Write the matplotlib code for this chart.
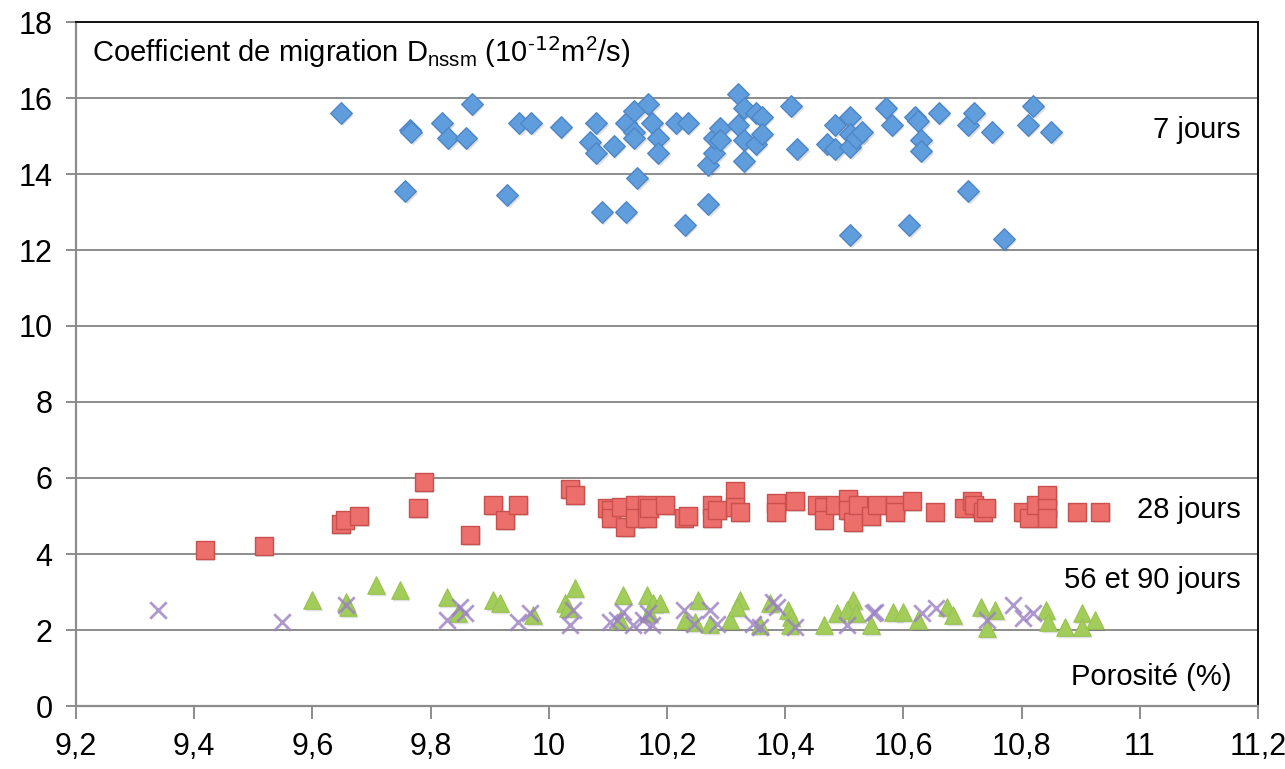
import matplotlib
matplotlib.use("Agg")
import matplotlib.pyplot as plt
from matplotlib import font_manager
import matplotlib.transforms as mtransforms

# ---------------- data ----------------
x_7 = [9.648, 9.765, 9.767, 9.757, 9.82, 9.83, 9.86, 9.87, 9.93, 9.95, 9.97, 10.02,
       10.07, 10.08, 10.08, 10.09, 10.11, 10.13, 10.13, 10.145, 10.145, 10.145, 10.15,
       10.168, 10.175, 10.185, 10.185, 10.215, 10.235, 10.23, 10.27, 10.27, 10.28, 10.28,
       10.29, 10.29, 10.32, 10.33, 10.32, 10.33, 10.33, 10.35, 10.36, 10.35, 10.36,
       10.41, 10.42, 10.47, 10.485, 10.485, 10.51, 10.51, 10.51, 10.52, 10.53, 10.51,
       10.57, 10.58, 10.62, 10.625, 10.63, 10.63, 10.61, 10.66, 10.71, 10.72, 10.71,
       10.75, 10.77, 10.81, 10.82, 10.85]
y_7 = [15.6, 15.15, 15.1, 13.55, 15.35, 14.95, 14.95, 15.85, 13.45, 15.35, 15.35, 15.25,
       14.85, 15.35, 14.55, 13.0, 14.75, 13.0, 15.35, 15.65, 15.1, 14.95, 13.9,
       15.85, 15.35, 14.95, 14.55, 15.35, 15.35, 12.65, 13.2, 14.25, 14.55, 14.95,
       15.2, 14.9, 16.1, 15.75, 15.3, 14.9, 14.35, 15.6, 15.5, 14.8, 15.05,
       15.8, 14.65, 14.8, 15.3, 14.65, 15.5, 15.05, 14.7, 14.95, 15.1, 12.4,
       15.75, 15.3, 15.5, 15.4, 14.9, 14.6, 12.65, 15.6, 15.3, 15.6, 13.55,
       15.1, 12.3, 15.3, 15.8, 15.1]

x_28 = [9.418, 9.518, 9.648, 9.655, 9.679, 9.779, 9.788, 9.867, 9.906, 9.926, 9.948,
        10.036, 10.044, 10.098, 10.106, 10.106, 10.129, 10.123, 10.146, 10.146, 10.166,
        10.166, 10.17, 10.197, 10.228, 10.236, 10.276, 10.276, 10.285, 10.315, 10.315,
        10.323, 10.385, 10.385, 10.417, 10.453, 10.465, 10.465, 10.484, 10.507, 10.507,
        10.515, 10.524, 10.546, 10.555, 10.586, 10.586, 10.614, 10.653, 10.703, 10.716,
        10.72, 10.734, 10.74, 10.803, 10.813, 10.825, 10.843, 10.843, 10.843, 10.893,
        10.933]
y_28 = [4.1, 4.2, 4.8, 4.9, 5.0, 5.2, 5.9, 4.5, 5.3, 4.9, 5.3,
        5.7, 5.55, 5.2, 5.15, 4.95, 4.7, 5.25, 5.3, 4.95, 5.3,
        4.95, 5.2, 5.3, 4.95, 5.0, 5.3, 4.95, 5.15, 5.65, 5.25,
        5.1, 5.35, 5.1, 5.4, 5.3, 5.25, 4.9, 5.3, 5.45, 5.15,
        4.85, 5.3, 5.0, 5.3, 5.3, 5.1, 5.4, 5.1, 5.2, 5.4,
        5.3, 5.1, 5.2, 5.1, 4.95, 5.3, 5.55, 5.2, 4.95, 5.1,
        5.1]

x_56 = [9.6, 9.657, 9.66, 9.708, 9.748, 9.827, 9.847, 9.906, 9.917, 9.974, 10.027,
        10.033, 10.044, 10.126, 10.12, 10.166, 10.177, 10.188, 10.17, 10.253, 10.23,
        10.247, 10.273, 10.307, 10.323, 10.318, 10.357, 10.374, 10.405, 10.41, 10.408,
        10.465, 10.487, 10.515, 10.505, 10.52, 10.546, 10.583, 10.6, 10.625, 10.673,
        10.684, 10.732, 10.755, 10.741, 10.842, 10.845, 10.873, 10.902, 10.902, 10.924]
y_56 = [2.79, 2.75, 2.6, 3.18, 3.05, 2.88, 2.44, 2.79, 2.7, 2.39, 2.7,
        2.57, 3.1, 2.92, 2.26, 2.92, 2.7, 2.7, 2.44, 2.79, 2.26,
        2.22, 2.17, 2.26, 2.79, 2.61, 2.13, 2.7, 2.53, 2.35, 2.13,
        2.13, 2.44, 2.79, 2.53, 2.44, 2.13, 2.48, 2.48, 2.26, 2.61,
        2.39, 2.61, 2.53, 2.04, 2.53, 2.22, 2.09, 2.44, 2.09, 2.26]

x_90 = [9.339, 9.548, 9.657, 9.827, 9.85, 9.858, 9.948, 9.968, 10.036, 10.041, 10.104,
        10.115, 10.126, 10.143, 10.16, 10.174, 10.168, 10.228, 10.245, 10.273, 10.284,
        10.346, 10.357, 10.38, 10.386, 10.417, 10.504, 10.549, 10.552, 10.631, 10.656,
        10.741, 10.786, 10.803, 10.82]
y_90 = [2.53, 2.2, 2.66, 2.26, 2.61, 2.44, 2.22, 2.44, 2.13, 2.53, 2.22,
        2.26, 2.48, 2.13, 2.26, 2.13, 2.44, 2.53, 2.17, 2.53, 2.17,
        2.17, 2.09, 2.75, 2.61, 2.09, 2.13, 2.44, 2.48, 2.44, 2.57,
        2.26, 2.66, 2.31, 2.44]

x_ticks = [9.2, 9.4, 9.6, 9.8, 10.0, 10.2, 10.4, 10.6, 10.8, 11.0, 11.2]
x_tick_labels = ["9,2", "9,4", "9,6", "9,8", "10", "10,2", "10,4", "10,6", "10,8", "11", "11,2"]
y_ticks = [0, 2, 4, 6, 8, 10, 12, 14, 16, 18]
y_tick_labels = ["0", "2", "4", "6", "8", "10", "12", "14", "16", "18"]

# ---------------- font ----------------
avail = {f.name for f in font_manager.fontManager.ttflist}
if "Liberation Sans Narrow" in avail:
    fam = "Liberation Sans Narrow"
    narrow = True
else:
    fam = "Liberation Sans"
    narrow = False
plt.rcParams["font.family"] = [fam, "DejaVu Sans"]

tick_fs = 24 if narrow else 22
txt_fs = 23 if narrow else 21

fig = plt.figure(figsize=(12.85, 7.69), dpi=100)
ax = fig.add_axes([76 / 1285, 1 - 706 / 769, (1258 - 76) / 1285, (706 - 22) / 769])

def shadow(xs, ys, **kw):
    tr = mtransforms.offset_copy(ax.transData, fig=fig, x=1.5, y=-2.0, units="dots")
    ax.scatter(xs, ys, transform=tr, color="#000000", alpha=0.12, linewidths=0, **kw)

ms_d = 14.8
ms_s = 17.5
ms_t = 17.0
ms_x = 16.0

shadow(x_7, y_7, marker="D", s=ms_d ** 2 * 0.55, zorder=2)
ax.scatter(x_7, y_7, marker="D", s=ms_d ** 2 * 0.55, color="#5f9ddc",
           edgecolors="#4f86c6", linewidths=1.0, zorder=3)

shadow(x_28, y_28, marker="s", s=ms_s ** 2 * 0.55, zorder=2)
ax.scatter(x_28, y_28, marker="s", s=ms_s ** 2 * 0.55, color="#ec6f6c",
           edgecolors="#c9504d", linewidths=1.0, zorder=3)

shadow(x_56, y_56, marker="^", s=ms_t ** 2 * 0.55, zorder=2)
ax.scatter(x_56, y_56, marker="^", s=ms_t ** 2 * 0.55, color="#a3cd5b",
           edgecolors="#98c24f", linewidths=0.8, zorder=3)

ax.scatter(x_90, y_90, marker="x", s=ms_x ** 2 * 0.55, color="#9a80c4",
           alpha=0.8, linewidths=2.0, zorder=4)

ax.set_xlim(9.2, 11.2)
ax.set_ylim(0, 18)
ax.set_xticks(x_ticks)
ax.set_xticklabels(x_tick_labels)
ax.set_yticks(y_ticks)
ax.set_yticklabels(y_tick_labels)

ax.yaxis.grid(True, color="#8c8c8c", linewidth=1.4)
ax.set_axisbelow(True)

for side in ["left", "bottom"]:
    ax.spines[side].set_color("#8c8c8c")
    ax.spines[side].set_linewidth(1.6)
for side in ["top", "right"]:
    ax.spines[side].set_color("#111111")
    ax.spines[side].set_linewidth(1.4)

ax.tick_params(axis="x", direction="out", length=9, width=1.4, color="#8c8c8c",
               labelsize=tick_fs, pad=10, labelcolor="black")
ax.tick_params(axis="y", direction="out", length=7, width=1.4, color="#8c8c8c",
               labelsize=tick_fs, pad=10, labelcolor="black")

ax.text(9.227, 17.2,
        "Coefficient de migration D$_{\\mathregular{nssm}}$ (10$^{\\mathregular{\u2010}12}$m$^{\\mathregular{2}}$/s)",
        fontsize=txt_fs, ha="left", va="center", zorder=5)
ax.text(11.17, 15.16, "7 jours", fontsize=txt_fs, ha="right", va="center", zorder=5)
ax.text(11.17, 5.16, "28 jours", fontsize=txt_fs, ha="right", va="center", zorder=5)
ax.text(11.17, 3.32, "56 et 90 jours", fontsize=txt_fs, ha="right", va="center", zorder=5)
ax.text(11.155, 0.76, "Porosité (%)", fontsize=txt_fs, ha="right", va="center", zorder=5)

fig.savefig("out.png", dpi=100)
